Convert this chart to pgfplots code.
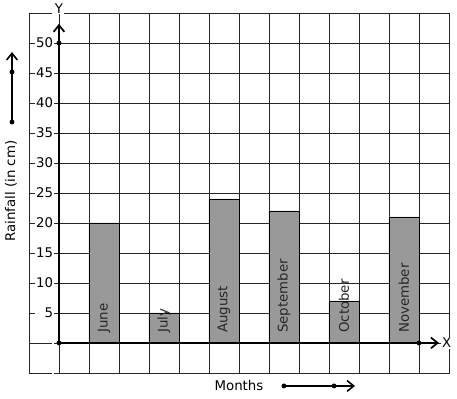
\documentclass[border=0pt]{standalone}
\usepackage{fontspec}
\setmainfont{DejaVu Sans}
\usepackage{pgfplots}
\pgfplotsset{compat=1.18}
\usetikzlibrary{arrows.meta}
\definecolor{barfill}{HTML}{999999}
\begin{document}
\begin{tikzpicture}
\begin{axis}[
  x=22.5pt, y=4.5pt,
  xmin=-1, xmax=13, ymin=-5, ymax=55,
  scale only axis, clip=false,
  xtick={-1,0,...,13}, xticklabels={},
  ytick={-5,0,...,55},
  yticklabels={,,\phantom{1}5,10,15,20,25,30,35,40,45,50,},
  major tick length=0pt,
  grid=major,
  grid style={black!85, line width=0.6pt},
  axis line style={black!85, line width=0.6pt},
  yticklabel style={fill=white, inner sep=0.8pt, anchor=east, xshift=19pt},
  tick label style={font=\fontsize{10}{12}\selectfont},
]
\addplot[ybar, bar width=1, fill=barfill, draw=black, line width=0.6pt]
  coordinates {(1.5,20) (3.5,5) (5.5,24) (7.5,22) (9.5,7) (11.5,21)};
\addplot[draw=none, nodes near coords, point meta=explicit symbolic,
  every node near coord/.append style={rotate=90, anchor=west, inner sep=0pt, xshift=7.5pt, font=\fontsize{10}{12}\selectfont, text=black!85}]
  table[meta=label] {
x y label
1.5 0 June
3.5 0 July
5.5 0 August
7.5 0 September
9.5 0 October
11.5 0 November
};
% axes
\addplot[line width=1.8pt, -{Straight Barb[length=5pt,width=8pt,line width=1.3pt]}] coordinates {(0,0) (0,53.2)};
\addplot[line width=1.8pt, -{Straight Barb[length=5pt,width=8pt,line width=1.3pt]}] coordinates {(0,0) (12.67,0)};
\addplot[only marks, mark=*, mark size=1.6pt, black] coordinates {(0,0) (0,50) (12,0)};
% side arrows
\addplot[line width=1.5pt, -{Straight Barb[length=5pt,width=8pt,line width=1.2pt]}] coordinates {(-1.567,36.83) (-1.567,48.5)};
\addplot[only marks, mark=*, mark size=1.6pt, black] coordinates {(-1.567,36.83) (-1.567,45.17)};
\addplot[line width=1.5pt, -{Straight Barb[length=5pt,width=8pt,line width=1.2pt]}] coordinates {(7.5,-7.17) (9.87,-7.17)};
\addplot[only marks, mark=*, mark size=1.6pt, black] coordinates {(7.5,-7.17) (9.17,-7.17)};
% labels
\node[fill=white, inner sep=1pt, font=\fontsize{10}{12}\selectfont] at (axis cs:0,55.8) {Y};
\node[fill=white, inner sep=1pt, font=\fontsize{10}{12}\selectfont] at (axis cs:12.93,0) {X};
\node[font=\fontsize{10}{12}\selectfont] at (axis cs:6,-7.1) {Months};
\node[rotate=90, font=\fontsize{10}{12}\selectfont] at (axis cs:-1.6,25.3) {Rainfall (in cm)};
\path (axis cs:-1.967,57.17) rectangle (axis cs:13.27,-9.33);
\end{axis}
\end{tikzpicture}
\end{document}
